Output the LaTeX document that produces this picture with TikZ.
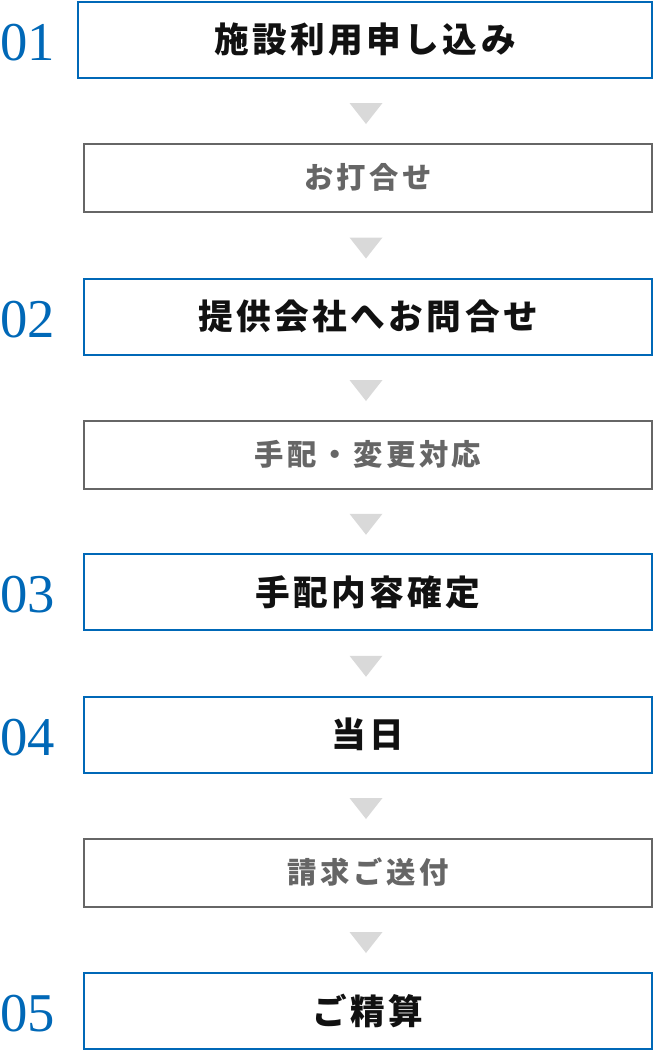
\documentclass[tikz,border=0pt]{standalone}
\usepackage{fontspec}
\setmainfont{Liberation Serif}
\newfontfamily\jpfont{Noto Sans CJK JP}[LetterSpace=10]
\newfontfamily\jpsubfont{Noto Sans CJK JP}[LetterSpace=12]
\usetikzlibrary{positioning,calc}
\definecolor{flowBlue}{HTML}{0068B7}
\definecolor{flowInk}{HTML}{111111}
\definecolor{flowGray}{HTML}{666666}
\definecolor{flowTri}{HTML}{D9D9D9}
\tikzset{
  flow main/.style={draw=flowBlue, line width=1.5pt, fill=white,
    minimum width=426pt, minimum height=57pt, inner sep=0pt,
    font=\jpfont\bfseries\fontsize{26}{30}\selectfont, text=flowInk},
  flow sub/.style={draw=flowGray, line width=1.5pt, fill=white,
    minimum width=426pt, minimum height=51pt, inner sep=0pt,
    font=\jpsubfont\bfseries\fontsize{22}{26}\selectfont, text=flowGray},
  flow num/.style={font=\fontsize{41}{41}\selectfont, text=flowBlue, inner sep=0pt},
  flow tri/.style={fill=flowTri}
}
\begin{document}
\begin{tikzpicture}[x=0.75pt,y=-0.75pt]
  \useasboundingbox (0,0) rectangle (654,1050);
  \coordinate (numcol) at (28,0);
  \coordinate (tricol) at (366,0);
  % steps
  \node[flow main, minimum width=430.5pt] (s1) at (365,39.5) {施設利用申し込み};
  \node[flow sub]  (s2) at (368,177.5) {お打合せ};
  \node[flow main] (s3) at (368,316.5) {提供会社へお問合せ};
  \node[flow sub]  (s4) at (368,454.5) {手配・変更対応};
  \node[flow main] (s5) at (368,592)   {手配内容確定};
  \node[flow main] (s6) at (368,734.5) {当日};
  \node[flow sub]  (s7) at (368,872.5) {請求ご送付};
  \node[flow main] (s8) at (368,1010.5) {ご精算};
  % step numbers
  \foreach \s/\n in {s1/01,s3/02,s5/03,s6/04,s8/05}
    \node[flow num] (n\n) at ([yshift=-2pt]numcol |- \s) {\n};
  % down markers
  \foreach \a/\b in {s1/s2,s2/s3,s3/s4,s4/s5,s5/s6,s6/s7,s7/s8} {
    \coordinate (m) at ($(\a.south)!0.5!(\b.north)$);
    \fill[flow tri] (m -| tricol) ++(-16.5,-7.5) -- ++(33,0) -- ++(-16.5,21) -- cycle;
  }
\end{tikzpicture}
\end{document}
